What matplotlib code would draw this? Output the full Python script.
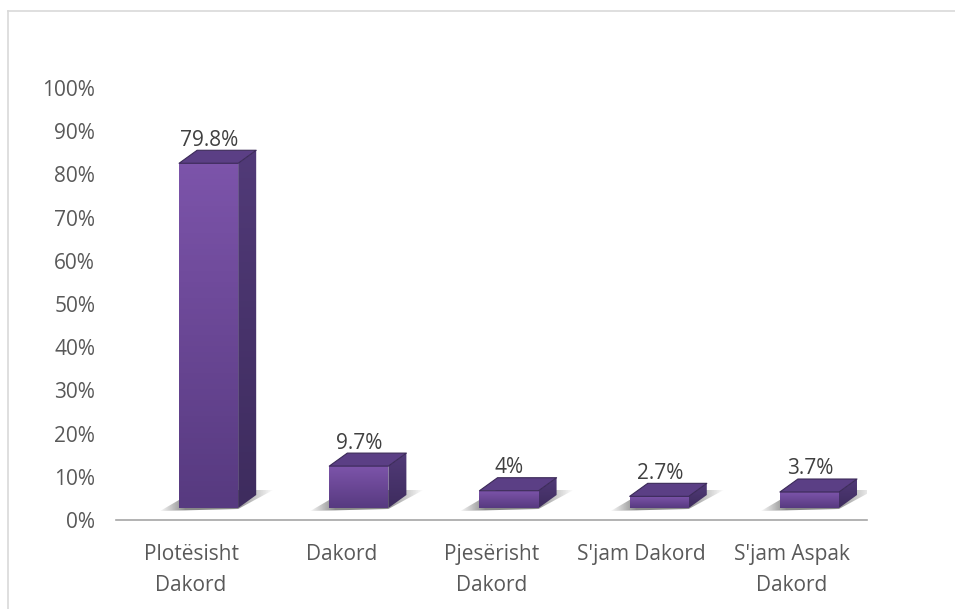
"""Bar chart with fake 3D purple columns and soft shadows."""

import matplotlib

matplotlib.use("Agg")
import matplotlib.pyplot as plt
import numpy as np
from matplotlib.colors import LinearSegmentedColormap
from matplotlib.lines import Line2D
from matplotlib.patches import Polygon

categories = ["Plotësisht\nDakord", "Dakord", "Pjesërisht\nDakord", "S'jam Dakord", "S'jam Aspak\nDakord"]
values = [79.8, 9.7, 4.0, 2.7, 3.7]
value_labels = ["79.8%", "9.7%", "4%", "2.7%", "3.7%"]
y_ticks = list(range(0, 101, 10))

W, H = 955, 609
TEXT = "#595959"
PX_X = 1 / 150  # one pixel in category units
PX_Y = 1 / 4.32  # one pixel in percent units

plt.rcParams["font.family"] = ["Open Sans", "DejaVu Sans"]

fig = plt.figure(figsize=(W / 100, H / 100), dpi=100)
ax = fig.add_axes([116 / W, 1 - 520 / H, (867 - 116) / W, (520 - 88) / H])
ax.set_xlim(-0.5, 4.5)
ax.set_ylim(0, 100)

front_cmap = LinearSegmentedColormap.from_list("front", ["#573a80", "#6a4795", "#7c54aa"])
side_cmap = LinearSegmentedColormap.from_list("side", ["#3e2c5e", "#513a78"])


def gradient_fill(points, cmap, zorder):
    """Vertical gradient clipped to a polygon given in data coordinates."""
    pts = np.array(points)
    poly = Polygon(pts, closed=True, transform=ax.transData, facecolor="none", edgecolor="none")
    ax.add_patch(poly)
    img = ax.imshow(
        np.linspace(1, 0, 64).reshape(-1, 1),
        cmap=cmap,
        extent=[pts[:, 0].min(), pts[:, 0].max(), pts[:, 1].min(), pts[:, 1].max()],
        aspect="auto",
        zorder=zorder,
    )
    img.set_clip_path(poly)


def draw_shadow(left, right, base):
    pts = np.array(
        [
            (left - 19 * PX_X, base - 3 * PX_Y),
            (right, base - 1 * PX_Y),
            (right + 35 * PX_X, base + 18 * PX_Y),
            (left + 17 * PX_X, base + 18 * PX_Y),
        ]
    )
    ramp = np.interp(np.linspace(0, 1, 128), [0, 0.22, 0.65, 1], [0.05, 0.85, 0.85, 0.0])
    rgba = np.zeros((1, 128, 4))
    rgba[..., :3] = 0.45
    rgba[..., 3] = ramp
    poly = Polygon(pts, closed=True, transform=ax.transData, facecolor="none", edgecolor="none")
    ax.add_patch(poly)
    img = ax.imshow(
        rgba,
        extent=[pts[:, 0].min(), pts[:, 0].max(), pts[:, 1].min(), pts[:, 1].max()],
        aspect="auto",
        zorder=1,
    )
    img.set_clip_path(poly)


base = 12 * PX_Y
front_w = 59 * PX_X
dx = 18 * PX_X
dy = 13 * PX_Y

for i, (val, lab) in enumerate(zip(values, value_labels)):
    left = i - 12 * PX_X
    right = left + front_w
    top = base + val
    draw_shadow(left, right, base)
    gradient_fill([(right, base), (right + dx, base + dy), (right + dx, top + dy), (right, top)], side_cmap, 2)
    gradient_fill([(left, base), (right, base), (right, top), (left, top)], front_cmap, 3)
    ax.add_patch(
        Polygon(
            [(left, top), (right, top), (right + dx, top + dy), (left + dx, top + dy)],
            closed=True,
            facecolor="#5b3f85",
            edgecolor="#3b2a58",
            linewidth=0.8,
            joinstyle="round",
            zorder=4,
        )
    )
    ax.text(i + 18 * PX_X, top + dy - 0.1, lab, ha="center", va="bottom", fontsize=15, color="#404040", zorder=5)

ax.set_xlim(-0.5, 4.5)
ax.set_ylim(0, 100)
for side in ["top", "right", "left"]:
    ax.spines[side].set_visible(False)
ax.spines["bottom"].set_color("#a6a6a6")
ax.spines["bottom"].set_linewidth(1.2)
ax.set_yticks(y_ticks)
ax.set_yticklabels([f"{t}%" for t in y_ticks], fontsize=15, color=TEXT)
ax.set_xticks(range(len(categories)))
ax.set_xticklabels(categories, fontsize=15, color=TEXT, linespacing=1.65)
ax.tick_params(axis="both", length=0)
ax.tick_params(axis="x", pad=17)
ax.tick_params(axis="y", pad=15)

# chart area frame, only the top and left edges are in view
fig.add_artist(Line2D([8 / W, 8 / W], [0, 1 - 11 / H], color="#d9d9d9", linewidth=1.2))
fig.add_artist(Line2D([8 / W, 1], [1 - 11 / H, 1 - 11 / H], color="#d9d9d9", linewidth=1.2))

fig.savefig("out.png", dpi=100)
plt.close(fig)
